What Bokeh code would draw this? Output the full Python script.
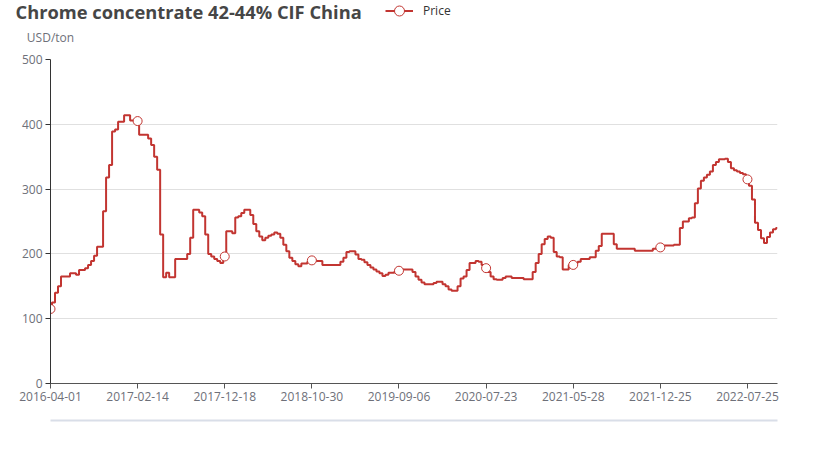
from bokeh.plotting import figure
from bokeh.layouts import column
from bokeh.models import (Range1d, FixedTicker, LinearAxis, Label, Legend, LegendItem,
                          ColumnDataSource)
from bokeh.embed import file_html
from bokeh.resources import INLINE

# ---- data (weekly-ish price samples) ----
price = [
    115, 125, 140, 150, 165, 165, 165, 170, 170, 168, 175, 175, 178, 183, 189, 197, 211, 211, 266, 318,
    337, 389, 392, 404, 404, 414, 414, 406, 406,
    405, 384, 384, 384, 378, 368, 350, 330, 230, 164, 171, 164, 164, 192, 192, 192, 192, 200, 225, 268,
    268, 264, 258, 230, 200, 196, 192, 189, 186,
    196, 235, 235, 232, 256, 258, 263, 268, 268, 260, 246, 235, 227, 221, 225, 228, 230, 233, 231, 225,
    214, 204, 194, 189, 184, 181, 185, 185, 188,
    190, 190, 189, 189, 183, 183, 183, 183, 183, 183, 188, 194, 203, 204, 204, 199, 192, 191, 187, 183,
    179, 176, 173, 170, 166, 168, 171, 171, 173,
    174, 176, 176, 176, 176, 172, 165, 160, 156, 153, 153, 153, 155, 157, 157, 153, 150, 145, 143, 143,
    150, 162, 165, 175, 186, 186, 189, 188, 183,
    178, 172, 165, 161, 160, 160, 163, 165, 165, 163, 163, 163, 163, 161, 161, 161, 172, 186, 200, 215,
    223, 227, 225, 203, 196, 195, 176, 176, 183,
    183, 186, 188, 192, 192, 192, 195, 195, 205, 212, 231, 231, 231, 231, 215, 208, 208, 208, 208, 208,
    208, 205, 205, 205, 205, 205, 205, 208, 209,
    210, 213, 213, 213, 213, 214, 214, 240, 250, 250, 255, 256, 278, 301, 313, 318, 322, 327, 337, 342,
    346, 346, 347, 342, 332, 329, 327, 325, 323,
    315, 305, 284, 248, 237, 224, 217, 226, 233, 238, 240,
]
tick_labels = ["2016-04-01", "2017-02-14", "2017-12-18", "2018-10-30", "2019-09-06",
               "2020-07-23", "2021-05-28", "2021-12-25", "2022-07-25"]
label_step = 29
y_ticks = [0, 100, 200, 300, 400, 500]
title_text = "Chrome concentrate 42-44% CIF China"
unit_text = "USD/ton"
series_name = "Price"

idx = list(range(len(price)))
tick_idx = [i * label_step for i in range(len(tick_labels))]

LINE = "#c23531"
AXIS_TXT = "#6E7079"
FONT = "Open Sans"
W = 818
HEAD_H = 50

# ---------------- header strip: title, unit name, legend ----------------
h = figure(width=W, height=HEAD_H, output_backend="svg", toolbar_location=None,
           x_range=Range1d(0, W), y_range=Range1d(0, HEAD_H),
           min_border_left=0, min_border_right=0, min_border_top=0, min_border_bottom=0,
           x_axis_type=None, y_axis_type=None)
h.frame_align = False
h.outline_line_color = None
h.xgrid.visible = False
h.ygrid.visible = False
h.add_layout(Label(x=15, y=HEAD_H - 11, text=title_text, text_font=FONT,
                   text_font_size="18.3px", text_font_style="bold", text_color="#464646",
                   text_baseline="middle", text_align="left"))
h.add_layout(Label(x=50, y=HEAD_H - 37, text=unit_text, text_font=FONT,
                   text_font_size="12px", text_color=AXIS_TXT,
                   text_baseline="middle", text_align="center"))
# legend-only renderers (a single NaN point, nothing is drawn in the strip)
dummy = ColumnDataSource(dict(x=[float("nan")], y=[float("nan")]))
hl = h.line("x", "y", source=dummy, line_color=LINE, line_width=2)
hm = h.scatter("x", "y", source=dummy, size=9, fill_color="white", line_color=LINE,
               line_width=1, marker="circle")
legend = Legend(items=[LegendItem(label=series_name, renderers=[hl, hm])],
                location=(385, HEAD_H - 23), orientation="horizontal", padding=0, margin=0,
                glyph_width=28, glyph_height=25, label_height=25, label_standoff=10,
                border_line_color=None, background_fill_alpha=0,
                label_text_font=FONT, label_text_font_size="12px", label_text_color="#333333")
h.add_layout(legend, "center")

# ---------------- main chart ----------------
p = figure(width=W, height=397, output_backend="svg", toolbar_location=None,
           x_range=Range1d(0, len(price) - 1), y_range=Range1d(0, 500),
           min_border_left=50, min_border_right=41, min_border_top=9, min_border_bottom=64)
p.frame_align = False
p.outline_line_color = None
p.background_fill_color = "white"
p.border_fill_color = "white"

src = ColumnDataSource(dict(x=idx, y=price))
p.step("x", "y", source=src, line_color=LINE, line_width=2, mode="center")
msrc = ColumnDataSource(dict(x=tick_idx, y=[price[i] for i in tick_idx]))
p.scatter("x", "y", source=msrc, size=9, fill_color="white", line_color=LINE,
          line_width=1, marker="circle")

xa = p.xaxis[0]
xa.ticker = FixedTicker(ticks=tick_idx)
xa.major_label_overrides = {i: lab for i, lab in zip(tick_idx, tick_labels)}
xa.minor_tick_line_color = None
xa.major_tick_in = 0
xa.major_tick_out = 5
xa.axis_line_color = "#555555"
xa.major_tick_line_color = "#555555"
xa.major_label_text_color = AXIS_TXT
xa.major_label_text_font = FONT
xa.major_label_text_font_size = "12px"
xa.major_label_standoff = 3
xa.axis_label = " "
xa.axis_label_standoff = 0
xa.axis_label_text_font_size = "12px"

ya = p.yaxis[0]
ya.ticker = FixedTicker(ticks=y_ticks)
ya.minor_tick_line_color = None
ya.major_tick_in = 0
ya.major_tick_out = 5
ya.axis_line_color = "#333333"
ya.major_tick_line_color = "#333333"
ya.major_label_text_color = AXIS_TXT
ya.major_label_text_font = FONT
ya.major_label_text_font_size = "12px"
ya.major_label_standoff = 3

p.xgrid.grid_line_color = None
p.ygrid.ticker = FixedTicker(ticks=y_ticks)
p.ygrid.grid_line_color = "#E0E0E0"

# faint slider track line below the axis
track = LinearAxis(ticker=FixedTicker(ticks=[]), axis_line_color="#D9DEE8", axis_line_width=2,
                   major_tick_line_color=None, minor_tick_line_color=None,
                   major_label_text_font_size="0px")
p.add_layout(track, "below")

layout = column(h, p, spacing=0)
open("out.html", "w").write(file_html(layout, INLINE))
